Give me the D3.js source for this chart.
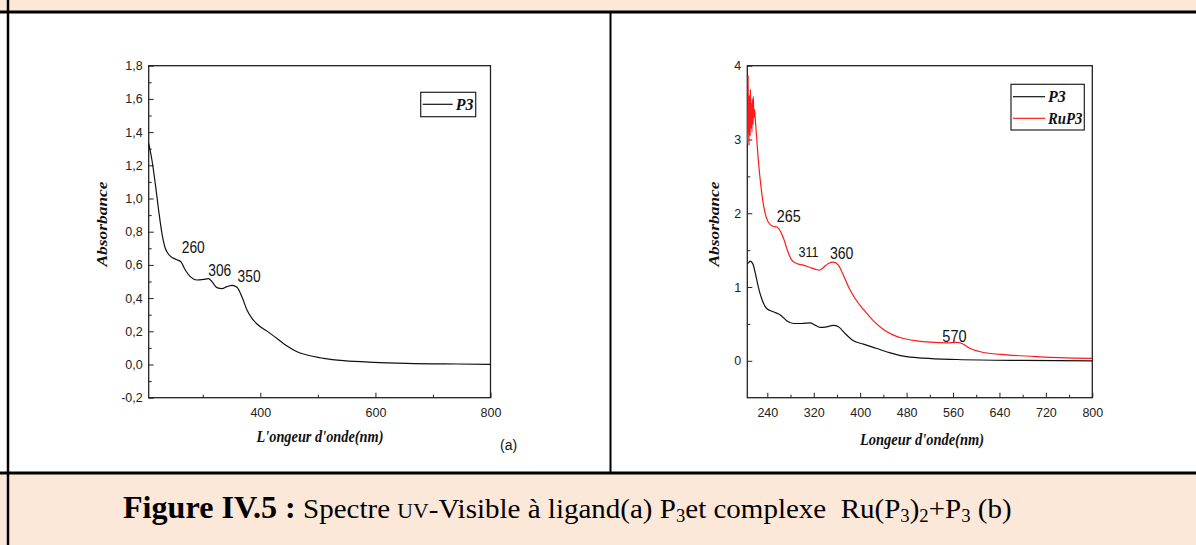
<!DOCTYPE html>
<html><head><meta charset="utf-8">
<script src="https://cdn.jsdelivr.net/npm/d3@7"></script>
<style>
html,body{margin:0;padding:0;background:#fff;}
svg{display:block;}
</style></head><body>
<svg id="fig" width="1196" height="545"></svg>
<script>
// ---- Panel (a): free ligand P3 ----
const ligandWavelength = [206, 211.6, 217.4, 223.2, 229, 234.8, 243.5, 253.9, 262, 269.6, 278.3, 289.9, 301.4, 310, 316, 324.6, 333.3, 342, 350.7, 359.4, 368, 376.8, 385.5, 394.2, 411.6, 429, 446.4, 463.8, 481.2, 510, 545, 597, 655, 742, 800];
const ligandAbsorbance = [1.332, 1.232, 1.091, 0.931, 0.79, 0.70, 0.653, 0.633, 0.619, 0.569, 0.529, 0.509, 0.513, 0.517, 0.499, 0.463, 0.457, 0.469, 0.477, 0.465, 0.408, 0.328, 0.278, 0.244, 0.201, 0.157, 0.111, 0.077, 0.057, 0.037, 0.023, 0.013, 0.007, 0.003, 0.001];
const ligandBands = [260, 306, 350];
const xTicksA = [400, 600, 800];
const xMinorTicksA = [300, 500, 700];
const yTicksA = [-0.2, 0, 0.2, 0.4, 0.6, 0.8, 1.0, 1.2, 1.4, 1.6, 1.8];
const yMinorTicksA = [-0.1, 0.1, 0.3, 0.5, 0.7, 0.9, 1.1, 1.3, 1.5, 1.7];

// ---- Panel (b): P3 and RuP3 complex ----
const p3Wavelength = [207.2, 210, 214.7, 218.7, 224.5, 230.2, 238.8, 250.4, 263, 273.4, 284.9, 299.2, 313.6, 322.2, 330.9, 342.4, 353.9, 362.5, 374, 388.4, 405.6, 428.6, 451.7, 474.6, 509, 567, 681.6, 800];
const p3Absorbance = [1.32, 1.35, 1.32, 1.21, 1.00, 0.845, 0.709, 0.664, 0.619, 0.542, 0.506, 0.506, 0.515, 0.484, 0.452, 0.461, 0.479, 0.461, 0.371, 0.271, 0.226, 0.167, 0.108, 0.063, 0.036, 0.018, 0.005, 0.0];
const ruP3Wavelength = [206, 206.5, 207, 207.5, 208, 208.5, 209, 209.5, 210, 210.5, 211, 211.5, 212, 212.5, 213, 213.5, 214, 214.5, 215, 215.5, 216, 216.5, 217, 217.5, 218, 218.5, 219, 220, 224.5, 228.5, 233, 238.8, 247.5, 257.3, 263, 268.8, 274.5, 282, 290.6, 302, 313.6, 322.2, 329.7, 336.6, 345.2, 353.9, 362.5, 371.1, 379.8, 391.2, 405.6, 422.9, 440.1, 457.4, 474.6, 497.6, 520.6, 549.4, 566.7, 575.3, 589.7, 612.7, 653, 710.3, 767.8, 800];
const ruP3Absorbance = [2.95, 3.4, 3.87, 3.1, 3.5, 2.92, 3.6, 3.2, 3.45, 3.05, 3.68, 3.25, 3.5, 3.15, 3.35, 3.1, 3.55, 3.3, 3.45, 3.2, 3.58, 3.35, 3.42, 3.3, 3.4, 3.38, 3.3, 3.2, 2.72, 2.40, 2.13, 1.93, 1.83, 1.81, 1.75, 1.64, 1.50, 1.365, 1.32, 1.297, 1.265, 1.243, 1.229, 1.265, 1.32, 1.338, 1.297, 1.16, 1.003, 0.845, 0.696, 0.542, 0.425, 0.348, 0.303, 0.271, 0.253, 0.244, 0.249, 0.235, 0.167, 0.113, 0.081, 0.054, 0.036, 0.032];
const complexBands = [265, 311, 360, 570];
const xTicksB = [240, 320, 400, 480, 560, 640, 720, 800];
const xMinorTicksB = [280, 360, 440, 520, 600, 680, 760];
const yTicksB = [0, 1, 2, 3, 4];
const yMinorTicksB = [0.5, 1.5, 2.5, 3.5];

const seriesNames = ["P3", "RuP3"];
const seriesColors = ["#111111", "#ff1a1a"];

// ---- drawing ----
const svg = d3.select("#fig");
const PEACH = "#fce8d9";
const SANS = "'Liberation Sans', Arial, sans-serif";
const SERIF = "'Liberation Serif', 'Times New Roman', serif";

// page background bands and table rules
svg.append("rect").attr("x", 0).attr("y", 0).attr("width", 1196).attr("height", 12).attr("fill", PEACH);
svg.append("rect").attr("x", 0).attr("y", 473).attr("width", 1196).attr("height", 72).attr("fill", PEACH);
const rule = (x1, y1, x2, y2, w) => svg.append("line").attr("x1", x1).attr("y1", y1).attr("x2", x2).attr("y2", y2)
  .attr("stroke", "#000").attr("stroke-width", w);
rule(0, 12, 1196, 12, 3);
rule(0, 473, 1196, 473, 3);
rule(8, 0, 8, 545, 2.5);
rule(610.5, 12, 610.5, 473, 2);

// squeeze a text element horizontally to a given width, anchored at x0
function fitWidth(sel, width, x0) {
  const w = sel.node().getComputedTextLength();
  const s = width / w;
  sel.attr("transform", `translate(${x0},0) scale(${s},1) translate(${-x0},0)`);
}

function panel(cfg) {
  const g = svg.append("g");
  const x = d3.scaleLinear().domain(cfg.xDomain).range(cfg.xRange);
  const y = d3.scaleLinear().domain(cfg.yDomain).range(cfg.yRange);
  const [L, R] = cfg.xRange, [B, T] = cfg.yRange;

  // axes with inward ticks
  g.append("g").attr("transform", `translate(0,${B})`)
    .call(d3.axisBottom(x).tickValues(cfg.xTicks).tickSize(-5).tickPadding(10).tickFormat(cfg.xFmt));
  g.append("g").attr("transform", `translate(0,${B})`)
    .call(d3.axisBottom(x).tickValues(cfg.xMinor).tickSize(-3).tickFormat(""));
  g.append("g").attr("transform", `translate(${L},0)`)
    .call(d3.axisLeft(y).tickValues(cfg.yTicks).tickSize(-5).tickPadding(6).tickFormat(cfg.yFmt));
  g.append("g").attr("transform", `translate(${L},0)`)
    .call(d3.axisLeft(y).tickValues(cfg.yMinor).tickSize(-3).tickFormat(""));
  g.selectAll(".domain").remove();
  g.selectAll(".tick line").attr("stroke", "#222").attr("stroke-width", 1);
  g.selectAll(".tick text").attr("font-family", SANS).attr("font-size", 12.5).attr("fill", "#222");

  // plot frame
  g.append("rect").attr("x", L).attr("y", T).attr("width", R - L).attr("height", B - T)
    .attr("fill", "none").attr("stroke", "#222").attr("stroke-width", 1.3);

  const line = d3.line().x(d => x(d[0])).y(d => y(d[1])).curve(d3.curveMonotoneX);
  cfg.series.forEach(s => {
    g.append("path").datum(d3.zip(s.wl, s.abs)).attr("d", line)
      .attr("fill", "none").attr("stroke", s.color).attr("stroke-width", 1.2);
  });

  // band annotations
  cfg.bands.forEach(b => {
    g.append("text").attr("x", x(b.wl) + b.dx).attr("y", b.y)
      .attr("font-family", SANS).attr("font-size", b.size).attr("fill", "#111").text(b.wl)
      .attr("textLength", b.w).attr("lengthAdjust", "spacingAndGlyphs");
  });

  // axis titles
  g.append("text").attr("x", cfg.xTitle.x).attr("y", cfg.xTitle.y).attr("text-anchor", "middle")
    .attr("font-family", SERIF).attr("font-weight", "bold").attr("font-style", "italic")
    .attr("font-size", 16).attr("fill", "#111").text(cfg.xTitle.text)
    .attr("textLength", cfg.xTitle.w).attr("lengthAdjust", "spacingAndGlyphs");
  g.append("text").attr("transform", `translate(${cfg.yTitle.x},${cfg.yTitle.y}) rotate(-90)`)
    .attr("text-anchor", "middle").attr("font-family", SERIF).attr("font-weight", "bold")
    .attr("font-style", "italic").attr("font-size", 15).attr("fill", "#111")
    .attr("textLength", 85).attr("lengthAdjust", "spacingAndGlyphs").text("Absorbance");

  // legend
  const lg = cfg.legend;
  g.append("rect").attr("x", lg.x).attr("y", lg.y).attr("width", lg.w).attr("height", lg.h)
    .attr("fill", "#fff").attr("stroke", "#222").attr("stroke-width", 1.2);
  cfg.series.forEach((s, i) => {
    const ly = lg.y + lg.first + i * lg.step;
    g.append("line").attr("x1", lg.x + 2).attr("x2", lg.x + lg.lineLen).attr("y1", ly).attr("y2", ly)
      .attr("stroke", s.color).attr("stroke-width", 1.2);
    const t = g.append("text").attr("x", lg.x + lg.lineLen + 3).attr("y", ly + 5.5)
      .attr("font-family", SERIF).attr("font-weight", "bold").attr("font-style", "italic")
      .attr("font-size", 16).attr("fill", "#111").text(s.name);
    const room = lg.w - lg.lineLen - 5;
    if (t.node().getComputedTextLength() > room)
      t.attr("textLength", room).attr("lengthAdjust", "spacingAndGlyphs");
  });
  return g;
}

// decimal comma with an ASCII hyphen for negatives
const fmtComma = d => d3.format(".1f")(d).replace(".", ",").replace("\u2212", "-");

panel({
  xDomain: [206, 800], xRange: [148.7, 490.5],
  yDomain: [-0.2, 1.8], yRange: [397.7, 65.7],
  xTicks: xTicksA, xMinor: xMinorTicksA, yTicks: yTicksA, yMinor: yMinorTicksA,
  xFmt: d3.format("d"), yFmt: fmtComma,
  series: [{ name: seriesNames[0], color: seriesColors[0], wl: ligandWavelength, abs: ligandAbsorbance }],
  bands: [
    { wl: ligandBands[0], dx: 2, y: 253, size: 16, w: 23 },
    { wl: ligandBands[1], dx: 2, y: 275.5, size: 16, w: 23 },
    { wl: ligandBands[2], dx: 6, y: 281.5, size: 16, w: 23 }
  ],
  xTitle: { text: "L'ongeur d'onde(nm)", x: 320, y: 441.5, w: 127 },
  yTitle: { x: 106.5, y: 224 },
  legend: { x: 420.7, y: 92.3, w: 55, h: 24.4, first: 12, step: 21.6, lineLen: 32 }
});

panel({
  xDomain: [205.5, 800], xRange: [747.3, 1092.3],
  yDomain: [-0.5, 4], yRange: [397.7, 65.7],
  xTicks: xTicksB, xMinor: xMinorTicksB, yTicks: yTicksB, yMinor: yMinorTicksB,
  xFmt: d3.format("d"), yFmt: d3.format("d"),
  series: [
    { name: seriesNames[0], color: seriesColors[0], wl: p3Wavelength, abs: p3Absorbance },
    { name: seriesNames[1], color: seriesColors[1], wl: ruP3Wavelength, abs: ruP3Absorbance }
  ],
  bands: [
    { wl: complexBands[0], dx: -5, y: 222.3, size: 17, w: 24 },
    { wl: complexBands[1], dx: -10, y: 257.3, size: 14.5, w: 20 },
    { wl: complexBands[2], dx: -7, y: 258.5, size: 17, w: 23.5 },
    { wl: complexBands[3], dx: -16.5, y: 342, size: 17, w: 24.3 }
  ],
  xTitle: { text: "Longeur d'onde(nm)", x: 922, y: 445, w: 124 },
  yTitle: { x: 719, y: 224 },
  legend: { x: 1011, y: 84.3, w: 73.3, h: 45.7, first: 12.4, step: 21.6, lineLen: 34 }
});

// panel tag
svg.append("text").attr("x", 500).attr("y", 450).attr("font-family", SANS).attr("font-size", 14)
  .attr("fill", "#111").text("(a)");

// figure caption
const cap = svg.append("text").attr("x", 123).attr("y", 518).attr("font-family", SERIF)
  .attr("font-size", 28).attr("fill", "#000").attr("xml:space", "preserve");
const parts = [
  { t: "Figure IV.5 :", w: "bold", s: 31 },
  { t: " Spectre " },
  { t: "UV", s: 21 },
  { t: "-Visible à ligand(a) P" },
  { t: "3", sub: true },
  { t: "et complexe  Ru(P" },
  { t: "3", sub: true },
  { t: ")" },
  { t: "2", sub: true },
  { t: "+P" },
  { t: "3", sub: true },
  { t: " (b)" }
];
parts.forEach((p, i) => {
  const ts = cap.append("tspan").text(p.t);
  if (p.w) ts.attr("font-weight", p.w);
  if (p.s) ts.attr("font-size", p.s);
  if (p.sub) ts.attr("font-size", 18).attr("dy", 4);
  else if (i > 0 && parts[i - 1].sub) ts.attr("dy", -4);
});
fitWidth(cap, 889, 123);
</script>
</body></html>
